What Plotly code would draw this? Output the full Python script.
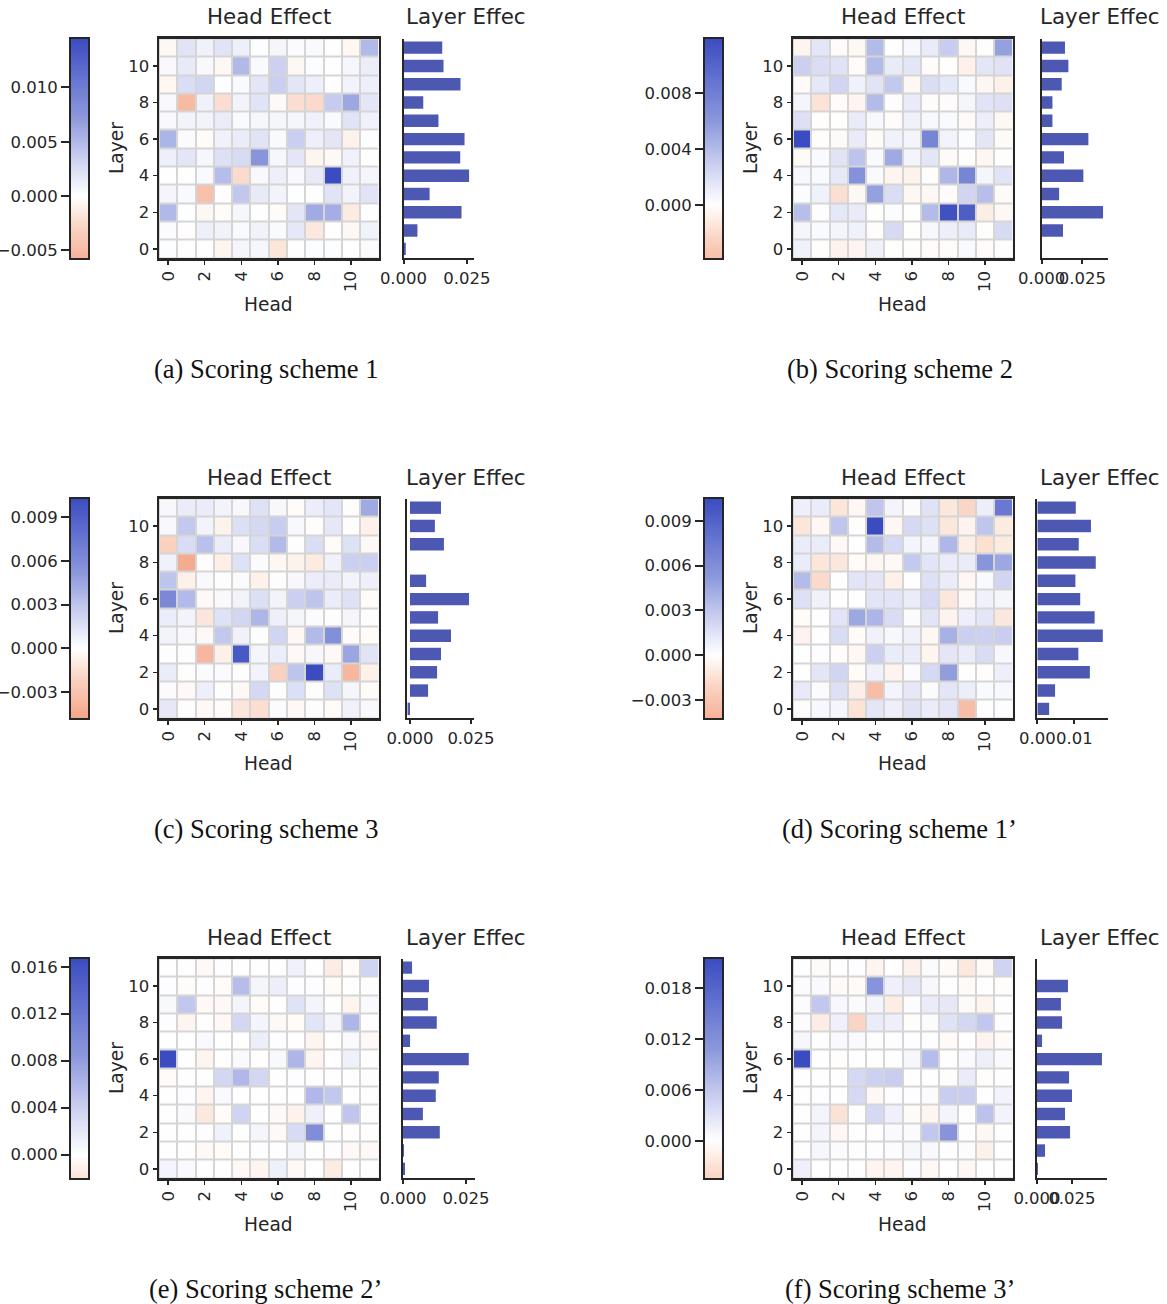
import numpy as np
import plotly.graph_objects as go

W, H = 1167, 1304
SCALE = 1e-3  # all effect values below are in units of 1e-3

heads = list(range(12))
layers = list(range(12))
head_tickvals = [0, 2, 4, 6, 8, 10]
layer_tickvals = [0, 2, 4, 6, 8, 10]

# Head-effect grids: rows listed from layer 11 (top) down to layer 0, columns = heads 0..11
head_effect_a = [
    [-0.5, 2.0, 1.0, 2.0, 1.2, 0.2, 0.7, 0.3, 0.4, 0.0, -0.6, 5.0],
    [0.5, 1.5, 0.5, -0.5, 5.0, 0.4, 3.3, -0.5, 0.2, 0.0, 0.6, 1.3],
    [-0.6, 2.5, 3.0, 0.1, 0.4, 1.8, 3.5, 1.8, 1.2, 0.0, 0.8, 1.2],
    [0.5, -5.0, 1.0, -2.2, 0.8, 2.0, -0.4, -2.2, -2.5, 3.8, 6.2, 1.8],
    [0.5, 0.8, 0.8, 1.4, 0.4, 0.6, 0.7, 0.7, 1.0, 0.4, 2.0, 1.0],
    [5.3, 0.3, -0.3, 1.0, 1.4, 2.0, 0.4, 3.5, 1.2, 1.8, -0.9, 0.2],
    [1.2, 1.8, 0.6, 2.2, 2.6, 7.5, 0.6, 1.8, -0.7, -0.4, 1.0, -0.1],
    [0.0, 0.0, 0.4, 4.7, -2.4, 0.5, 1.2, 0.5, 1.5, 14.5, 1.0, 0.7],
    [0.7, 0.4, -4.5, -0.1, 4.0, 1.5, 0.8, 0.1, 0.0, 2.0, 0.8, 2.0],
    [5.0, 0.1, -0.5, -0.3, 0.6, 0.0, -0.3, 1.8, 6.0, 5.8, -1.4, 0.0],
    [0.3, -0.1, 1.2, 0.9, 0.4, 0.9, 0.4, 1.7, -1.6, 0.0, -0.5, 0.9],
    [0.2, 0.0, 0.0, -0.7, 0.7, 0.6, -1.8, 0.0, 0.2, 0.2, 0.0, 0.3],
]
head_effect_b = [
    [-0.6, 1.5, -0.2, -0.4, 4.0, 0.0, 0.4, 1.2, 3.0, -0.4, -0.1, 5.5],
    [2.8, 2.0, 1.7, -0.2, 4.0, 1.2, 1.5, -0.2, 0.0, -0.8, 1.5, 1.7],
    [-0.3, 1.4, 2.5, 0.8, 1.6, 3.2, -0.4, 2.0, 1.4, 0.3, -0.5, -0.8],
    [0.5, -1.6, -0.2, -0.6, 4.0, 0.1, 1.2, -0.2, -0.2, 0.5, 1.6, 1.8],
    [1.8, -0.1, 0.0, 1.2, 0.4, -0.2, 0.8, 0.4, 0.3, -0.3, 1.0, -0.4],
    [11.9, -0.1, -0.3, 1.2, -0.3, 0.8, 0.6, 7.5, 0.7, 0.2, 1.5, -0.3],
    [-0.3, 0.3, 1.6, 3.5, 0.3, 5.0, 0.6, 1.5, -0.3, 0.0, -0.5, 0.0],
    [0.4, 0.3, 1.3, 6.5, 0.3, -0.6, -0.7, -0.1, 4.2, 7.5, 0.5, 1.6],
    [0.2, 0.8, -1.8, -0.4, 5.5, 2.0, -0.4, -0.4, -0.2, 2.5, 3.8, -0.3],
    [3.8, 0.1, 1.4, 1.2, 0.0, 0.2, 0.0, 4.0, 11.5, 10.5, -1.0, -0.4],
    [0.5, 0.3, 0.6, 0.8, -0.1, 2.2, 0.0, 0.4, 1.0, 1.2, 0.0, 2.2],
    [0.8, -0.1, -0.7, -0.6, 0.8, 0.0, -0.1, -0.2, -0.2, 0.3, -0.2, 0.1],
]
head_effect_c = [
    [0.4, 1.0, 1.0, 0.6, 0.4, 1.5, 0.4, -0.2, 0.9, 1.3, 0.0, 4.3],
    [0.3, 2.8, 0.6, -0.6, 1.6, 2.0, 2.6, 0.3, -0.1, 1.2, -0.1, -0.7],
    [-2.2, 1.8, 3.2, 1.0, 0.4, 1.7, 3.5, 0.1, 1.7, -0.2, 1.5, -0.3],
    [0.7, -4.5, 0.0, -0.8, 1.5, 0.2, -0.4, -0.6, -1.0, 0.7, 2.4, 2.4],
    [3.0, -0.7, 0.3, 0.0, 0.2, -0.7, 0.0, 0.4, 0.9, 1.0, 0.6, 0.8],
    [6.3, 3.5, -0.3, 0.3, 0.6, 1.6, 0.6, 2.4, 3.0, 1.0, 1.5, -0.2],
    [0.9, 0.6, -1.2, 1.5, 2.1, 3.7, 0.8, 0.5, 0.2, 0.0, 0.5, 0.0],
    [0.6, 0.3, -0.3, 2.8, 0.7, 0.0, 2.2, -0.4, 3.5, 5.8, -0.2, -0.2],
    [0.0, 0.0, -3.8, -0.7, 9.5, 0.5, 0.9, -0.3, 0.4, -0.3, 4.5, 1.4],
    [1.0, -0.1, 0.2, 0.2, 0.0, 0.6, -2.2, 3.0, 10.3, 1.0, -3.8, -0.7],
    [0.2, -0.3, 0.8, 0.0, -0.3, 2.0, 0.0, 1.6, 0.0, 1.5, 0.5, -0.2],
    [1.2, 0.0, -0.3, -0.2, -1.2, -1.6, 0.2, -0.3, 0.1, -0.2, 0.7, 0.3],
]
head_effect_d = [
    [0.8, 1.0, -1.3, -0.4, 3.0, 0.6, 0.2, 1.5, -1.2, -2.0, 0.9, 7.5],
    [-1.3, -0.4, 3.0, -0.1, 10.5, -0.4, 2.0, 1.6, -1.2, -0.6, 3.0, -1.0],
    [1.0, 1.0, -0.3, 0.0, 3.5, 2.0, 0.6, 0.6, 3.7, -0.8, -1.5, -1.0],
    [1.0, -1.3, -1.2, -0.2, -0.4, -0.3, 2.8, 1.4, 1.0, 1.0, 5.5, 4.5],
    [3.5, -1.8, 0.0, 1.4, 1.3, -0.7, 0.0, 1.6, 1.0, -0.4, 0.3, 2.2],
    [1.6, 0.7, 0.0, 0.0, 1.4, 1.4, 1.0, 2.0, -1.2, -0.3, 0.7, 0.5],
    [-0.2, 0.0, 1.4, 4.5, 3.8, 1.8, 0.2, 1.4, -0.6, 0.8, 1.3, -1.2],
    [-0.6, 0.0, 1.8, -0.2, 0.7, 0.4, 0.7, -0.4, 4.0, 2.5, 2.4, 2.6],
    [0.0, 0.1, -0.1, -0.4, 2.5, 1.0, 1.0, -0.5, 1.3, 1.0, 1.8, 0.4],
    [0.0, 1.3, 2.2, -0.2, 0.7, -0.6, 0.2, 2.0, 5.0, 0.0, -0.1, 0.8],
    [1.1, 0.2, 1.6, -0.8, -3.5, 0.6, 1.2, 0.2, 1.3, 0.9, 0.3, 0.4],
    [-0.1, 0.4, 0.5, -1.4, 1.3, 0.8, 1.5, 1.0, 1.3, -3.5, 0.0, 0.1],
]
head_effect_e = [
    [0.0, 0.0, -0.5, 0.2, 0.0, 0.0, 0.0, 1.1, 0.0, -1.5, -0.3, 3.6],
    [0.2, -0.3, 0.2, -0.3, 5.4, 0.7, 1.4, 0.2, 0.2, -0.3, 0.1, 0.2],
    [0.5, 4.6, -0.5, -0.5, 0.8, -0.3, 0.0, 2.4, 0.8, 0.0, -0.8, 0.4],
    [0.2, -0.8, 0.0, -0.5, 3.4, 0.8, -0.5, -0.3, 2.2, 0.7, 6.0, 0.0],
    [0.1, 0.1, 0.4, 0.0, 0.1, 1.4, 0.2, 0.1, -0.8, 0.1, 0.4, -0.5],
    [16.7, 0.1, -0.8, 0.0, 0.4, 0.0, 0.5, 6.0, -0.8, 0.0, 1.2, 0.0],
    [-0.3, 0.0, 0.0, 3.4, 5.8, 3.4, 0.0, 0.2, 0.1, 0.1, 0.1, 0.2],
    [0.1, 0.2, -0.8, 0.4, 0.0, 0.0, 0.1, 0.0, 5.8, 4.6, 0.0, 0.0],
    [0.0, 0.4, -1.8, -0.3, 3.6, 0.0, -0.5, -1.0, 1.2, 0.0, 4.8, 0.0],
    [0.0, 0.1, 0.2, 1.1, 0.0, 0.7, -0.5, 3.0, 9.6, 0.0, 0.0, 0.0],
    [0.0, 0.0, -0.5, -0.3, 0.1, 0.2, 0.0, 0.7, 0.0, 0.2, -0.5, -0.5],
    [0.8, 0.4, 0.0, 0.0, -0.5, -0.8, 1.2, -0.5, 0.0, -1.5, 0.0, 0.1],
]
head_effect_f = [
    [0.0, -0.5, 0.0, 0.1, -1.0, 0.0, -1.4, 0.4, -0.5, -2.4, -0.5, 4.6],
    [0.4, 0.5, -0.5, -0.5, 11.5, 1.6, 2.4, 0.8, 0.0, -0.5, 0.0, -0.2],
    [0.3, 6.0, 0.8, 0.4, 1.1, -1.9, 0.3, 2.0, 2.4, -0.5, -1.0, 0.0],
    [0.3, -1.9, 1.6, -4.3, 2.0, 1.7, -0.2, 0.4, 3.0, 4.3, 6.0, 0.1],
    [0.9, 0.1, 0.7, 0.5, 0.1, 0.1, 0.1, 0.1, -0.5, 0.0, -1.2, -0.5],
    [21.5, 0.0, -0.2, 0.0, 0.0, 0.0, 0.9, 7.0, 0.0, 0.5, 1.7, 0.5],
    [0.0, 0.0, 0.0, 4.0, 5.0, 5.3, 0.0, 0.0, -0.2, 2.0, -0.2, 0.0],
    [0.0, 0.1, 0.0, 4.0, -0.7, 0.1, 0.1, 0.4, 5.3, 5.3, 0.0, 1.3],
    [0.0, 1.1, -2.9, 0.0, 4.0, 1.6, -0.5, -1.0, 1.1, 0.0, 6.5, 1.3],
    [0.0, 1.1, -0.7, 0.0, 0.0, 0.5, 0.4, 6.0, 11.5, 0.0, -0.7, 0.0],
    [0.0, 0.9, 0.4, -0.2, 0.1, 0.3, 0.9, 0.7, 0.0, 0.3, -1.4, 0.0],
    [1.6, 0.0, 0.0, 0.0, -1.0, -1.0, 0.3, -0.7, 0.0, -0.7, 0.0, 0.0],
]

# Layer-effect bars for layers 0..11 (units of 1e-3)
layer_effect_a = [0.9, 5.5, 22.9, 10.3, 25.9, 22.4, 24.1, 13.8, 7.8, 22.5, 15.8, 15.3]
layer_effect_b = [0.0, 13.1, 37.7, 10.7, 25.6, 13.7, 28.7, 6.6, 6.6, 12.3, 16.4, 14.3]
layer_effect_c = [-1.0, 7.4, 11.1, 12.7, 16.8, 11.5, 24.2, 6.6, 0.0, 13.9, 10.2, 12.7]
layer_effect_d = [3.2, 4.8, 14.2, 11.1, 17.7, 15.5, 11.6, 10.3, 15.8, 11.2, 14.5, 10.4]
layer_effect_e = [0.8, 0.4, 14.6, 7.9, 13.0, 14.2, 26.1, 2.8, 13.4, 9.9, 10.3, 3.6]
layer_effect_f = [0.7, 5.7, 23.6, 20.0, 25.0, 22.9, 46.4, 3.6, 17.9, 17.1, 22.1, 0.0]

captions = ["(a) Scoring scheme 1", "(b) Scoring scheme 2", "(c) Scoring scheme 3",
            "(d) Scoring scheme 1\u2019", "(e) Scoring scheme 2\u2019", "(f) Scoring scheme 3\u2019"]

# colour ranges (units of 1e-3) and colorbar ticks
cb_range = [(-5.7, 14.5), (-3.8, 11.9), (-4.8, 10.3), (-4.2, 10.5), (-2.0, 16.7), (-4.35, 21.5)]
cb_ticks = [
    [-0.005, 0.0, 0.005, 0.010],
    [0.0, 0.004, 0.008],
    [-0.003, 0.0, 0.003, 0.006, 0.009],
    [-0.003, 0.0, 0.003, 0.006, 0.009],
    [0.0, 0.004, 0.008, 0.012, 0.016],
    [0.0, 0.006, 0.012, 0.018],
]
cb_ticktext = [
    ["\u22120.005", "0.000", "0.005", "0.010"],
    ["0.000", "0.004", "0.008"],
    ["\u22120.003", "0.000", "0.003", "0.006", "0.009"],
    ["\u22120.003", "0.000", "0.003", "0.006", "0.009"],
    ["0.000", "0.004", "0.008", "0.012", "0.016"],
    ["0.000", "0.006", "0.012", "0.018"],
]
bar_ticks = [[0, 0.025], [0, 0.025], [0, 0.025], [0, 0.01], [0, 0.025], [0, 0.025]]
bar_ticktext = [["0.000", "0.025"], ["0.000", "0.025"], ["0.000", "0.025"],
                ["0.00", "0.01"], ["0.000", "0.025"], ["0.000", "0.025"]]

heads_data = [head_effect_a, head_effect_b, head_effect_c, head_effect_d, head_effect_e, head_effect_f]
layer_data = [layer_effect_a, layer_effect_b, layer_effect_c, layer_effect_d, layer_effect_e, layer_effect_f]

# ---------------- layout geometry (pixels) ----------------
# bar axis: (spine px, zero px, px per unit, end px) relative to column 1
bar_geom = [
    (403.5, 403.5, 2533, 474.0),
    (407.7, 407.7, 1627, 473.7),
    (407.0, 410.0, 2440, 474.0),
    (403.3, 403.3, 3700, 473.7),
    (403.0, 403.0, 2520, 475.0),
    (403.0, 403.0, 1400, 473.0),
]

TXT = "#262626"
BAR = "rgb(76,88,178)"
GRID = "#d5d5d5"
FONT = "DejaVu Sans"
TICK = 16.5


def cmap_rgb(t):
    stops = [(-1.0, (180, 4, 38)), (-0.5, (242, 160, 130)), (-0.4, (246, 178, 152)),
             (-0.2, (250, 212, 196)), (-0.12, (252, 230, 218)), (0.0, (255, 255, 255)),
             (0.25, (200, 205, 240)), (0.5, (140, 152, 220)), (0.75, (100, 115, 208)),
             (1.0, (59, 76, 192))]
    t = max(-1.0, min(1.0, t))
    for (t0, c0), (t1, c1) in zip(stops[:-1], stops[1:]):
        if t0 <= t <= t1:
            f = (t - t0) / (t1 - t0) if t1 > t0 else 0
            return tuple(round(a + (b - a) * f) for a, b in zip(c0, c1))
    return stops[-1][1]


def make_colorscale(zmin, zmax):
    R = max(abs(zmin), abs(zmax))
    ts = np.linspace(zmin / R, zmax / R, 81)
    cs = []
    for t in ts:
        r, g, b = cmap_rgb(t)
        cs.append([(t - ts[0]) / (ts[-1] - ts[0]), f"rgb({r},{g},{b})"])
    return cs


def xd(a, b):
    return [a / W, b / W]


def yd(top, bot):
    return [1 - bot / H, 1 - top / H]


def nm(prefix, n):
    return prefix + ("" if n == 1 else str(n))


fig = go.Figure()
layout = dict(width=W, height=H, margin=dict(l=0, r=0, t=0, b=0, autoexpand=False),
              paper_bgcolor="white", plot_bgcolor="white", showlegend=False,
              template="none",
              font=dict(family=FONT, color=TXT, size=TICK))
annotations = []
shapes = []
common = dict(automargin=False, showgrid=False, zeroline=False)

for i in range(6):
    col, row = i % 2, i // 2
    ox, oy = 634 * col, 460 * row
    zmin, zmax = cb_range[i][0] * SCALE, cb_range[i][1] * SCALE
    cs = make_colorscale(zmin, zmax)
    top, bot = 38.5 + oy, 258.0 + oy
    n_cb, n_hm, n_bar = 3 * i + 1, 3 * i + 2, 3 * i + 3

    # ---- colour bar (gradient strip on its own axis, ticks on the left) ----
    grad = np.linspace(zmin, zmax, 300)
    fig.add_trace(go.Heatmap(z=[[g] for g in grad], x=[0], y=grad, colorscale=cs,
                             zmin=zmin, zmax=zmax, showscale=False, hoverinfo="skip",
                             xaxis=nm("x", n_cb), yaxis=nm("y", n_cb)))
    layout[nm("xaxis", n_cb)] = dict(domain=xd(71 + ox, 88 + ox), anchor=nm("y", n_cb),
                                     range=[-0.5, 0.5], showticklabels=False, ticks="",
                                     showline=True, mirror=True,
                                     linewidth=2, linecolor=TXT, fixedrange=True, **common)
    layout[nm("yaxis", n_cb)] = dict(domain=yd(top, bot), anchor=nm("x", n_cb),
                                     range=[zmin, zmax], side="left", tickvals=cb_ticks[i],
                                     ticktext=cb_ticktext[i], ticks="outside", ticklen=8,
                                     tickwidth=2, tickcolor=TXT,
                                     showline=True, mirror=True, linewidth=2, linecolor=TXT,
                                     tickfont=dict(size=TICK, family=FONT, color=TXT), **common)

    # ---- head-effect heatmap ----
    z = [[v * SCALE for v in r] for r in heads_data[i][::-1]]
    fig.add_trace(go.Heatmap(z=z, x=heads, y=layers, colorscale=cs, zmin=zmin, zmax=zmax,
                             showscale=False, xgap=2, ygap=2,
                             xaxis=nm("x", n_hm), yaxis=nm("y", n_hm)))
    shapes.append(dict(type="rect", xref=nm("x", n_hm), yref=nm("y", n_hm),
                       x0=-0.5, x1=11.5, y0=-0.5, y1=11.5, fillcolor=GRID,
                       line=dict(width=0), layer="below"))
    layout[nm("xaxis", n_hm)] = dict(domain=xd(159 + ox, 378.5 + ox), anchor=nm("y", n_hm),
                                     range=[-0.5, 11.5], tickvals=head_tickvals, tickangle=-90,
                                     ticks="outside", ticklen=4, tickwidth=1.5, tickcolor=TXT,
                                     showline=True, mirror=True,
                                     linewidth=2.5, linecolor=TXT,
                                     tickfont=dict(size=TICK, family=FONT, color=TXT), **common)
    layout[nm("yaxis", n_hm)] = dict(domain=yd(top, bot), anchor=nm("x", n_hm),
                                     range=[-0.5, 11.5], tickvals=layer_tickvals,
                                     ticks="outside", ticklen=4, tickwidth=1.5, tickcolor=TXT,
                                     showline=True, mirror=True,
                                     linewidth=2.5, linecolor=TXT,
                                     tickfont=dict(size=TICK, family=FONT, color=TXT), **common)

    # ---- layer-effect bars ----
    spine, zero_px, ppu, end = bar_geom[i]
    xmin = -(zero_px - spine) / ppu
    xmax = (end - zero_px) / ppu
    fig.add_trace(go.Bar(x=[v * SCALE for v in layer_data[i]], y=layers, orientation="h",
                         width=0.68, marker=dict(color=BAR, line=dict(width=0)),
                         xaxis=nm("x", n_bar), yaxis=nm("y", n_bar)))
    layout[nm("xaxis", n_bar)] = dict(domain=xd(spine + ox, end + ox),
                                      anchor=nm("y", n_bar), range=[xmin, xmax],
                                      tickvals=bar_ticks[i], ticktext=bar_ticktext[i], tickangle=0,
                                      ticks="outside", ticklen=4, tickwidth=2, tickcolor=TXT,
                                      showline=True, linewidth=2, linecolor=TXT,
                                      tickfont=dict(size=TICK, family=FONT, color=TXT), **common)
    layout[nm("yaxis", n_bar)] = dict(domain=yd(top, bot), anchor=nm("x", n_bar),
                                      range=[-0.5, 11.5], showticklabels=False, ticks="",
                                      showline=True, linewidth=2, linecolor=TXT, **common)

    # ---- texts ----
    def ann(text, x, y, size, xanchor="center", angle=0, family=FONT, color=TXT):
        annotations.append(dict(text=text, x=x / W, y=1 - y / H, xref="paper", yref="paper",
                                showarrow=False, xanchor=xanchor, yanchor="middle",
                                textangle=angle, font=dict(size=size, family=family, color=color)))

    ann("Head Effect", 269 + ox, 17 + oy, 21.4)
    ann("Layer Effec", 404 + ox, 17 + oy, 21.4, xanchor="left")
    ann("Head", 268.5 + ox, 304 + oy, 18.6)
    ann("Layer", 116 + ox, 148 + oy, 18.6, angle=-90)
    ann(captions[i], 265.5 + ox, 369 + oy, 26.5, family="Liberation Serif", color="#111111")

layout["annotations"] = annotations
layout["shapes"] = shapes
fig.update_layout(**layout)
fig.write_html("out.html", config={"displayModeBar": False, "staticPlot": True},
               post_script="document.body.style.margin='0';document.body.style.overflow='hidden';")
